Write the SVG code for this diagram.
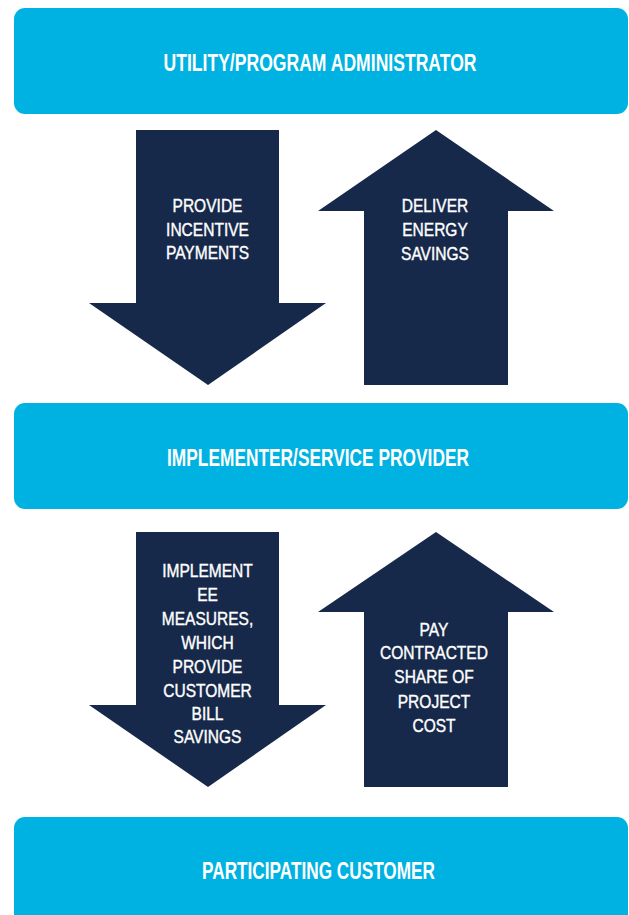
<svg xmlns="http://www.w3.org/2000/svg" width="629" height="915" viewBox="0 0 629 915">
  <style>
    .box { fill: #00B2E2; }
    .arrow { fill: #17294A; }
    .title { font-family: "Liberation Sans", Arial, sans-serif; font-weight: bold; font-size: 23px; fill: #FFFFFF; text-anchor: middle; }
    .label { font-family: "Liberation Sans", Arial, sans-serif; font-size: 18.5px; fill: #FFFFFF; stroke: #FFFFFF; stroke-width: 0.4px; text-anchor: middle; }
  </style>
  <rect width="629" height="915" fill="#FFFFFF"/>

  <!-- parties -->
  <g id="utility">
    <rect class="box" x="14" y="8" width="614" height="106" rx="11"/>
    <text class="title" x="320" y="71" textLength="313" lengthAdjust="spacingAndGlyphs">UTILITY/PROGRAM ADMINISTRATOR</text>
  </g>
  <g id="implementer">
    <rect class="box" x="14" y="403" width="614" height="106" rx="11"/>
    <text class="title" x="318" y="466" textLength="302" lengthAdjust="spacingAndGlyphs">IMPLEMENTER/SERVICE PROVIDER</text>
  </g>
  <g id="customer">
    <rect class="box" x="14" y="817" width="614" height="120" rx="11"/>
    <text class="title" x="318.5" y="879" textLength="233" lengthAdjust="spacingAndGlyphs">PARTICIPATING CUSTOMER</text>
  </g>

  <!-- flows between parties; labels are condensed horizontally around the shaft centre -->
  <g id="connectors">
    <g id="incentive-payments">
      <polygon class="arrow" points="136,130 279,130 279,303 326,303 208,385 89,303 136,303"/>
      <g transform="translate(207.5,0) scale(0.84,1)">
        <text class="label" x="0" y="212">PROVIDE</text>
        <text class="label" x="0" y="236">INCENTIVE</text>
        <text class="label" x="0" y="259">PAYMENTS</text>
      </g>
    </g>
    <g id="energy-savings">
      <polygon class="arrow" points="436,130 554,211 508,211 508,385 364,385 364,211 318,211"/>
      <g transform="translate(435,0) scale(0.84,1)">
        <text class="label" x="0" y="212">DELIVER</text>
        <text class="label" x="0" y="236">ENERGY</text>
        <text class="label" x="0" y="260">SAVINGS</text>
      </g>
    </g>
    <g id="ee-measures">
      <polygon class="arrow" points="136,532 279,532 279,705 326,705 208,787 89,705 136,705"/>
      <g transform="translate(207.5,0) scale(0.84,1)">
        <text class="label" x="0" y="577">IMPLEMENT</text>
        <text class="label" x="0" y="601">EE</text>
        <text class="label" x="0" y="625">MEASURES,</text>
        <text class="label" x="0" y="649">WHICH</text>
        <text class="label" x="0" y="673">PROVIDE</text>
        <text class="label" x="0" y="697">CUSTOMER</text>
        <text class="label" x="0" y="720">BILL</text>
        <text class="label" x="0" y="743">SAVINGS</text>
      </g>
    </g>
    <g id="project-cost">
      <polygon class="arrow" points="436,532 554,612 508,612 508,787 364,787 364,612 318,612"/>
      <g transform="translate(434,0) scale(0.84,1)">
        <text class="label" x="0" y="636">PAY</text>
        <text class="label" x="0" y="659">CONTRACTED</text>
        <text class="label" x="0" y="683">SHARE OF</text>
        <text class="label" x="0" y="708">PROJECT</text>
        <text class="label" x="0" y="732">COST</text>
      </g>
    </g>
  </g>
</svg>
